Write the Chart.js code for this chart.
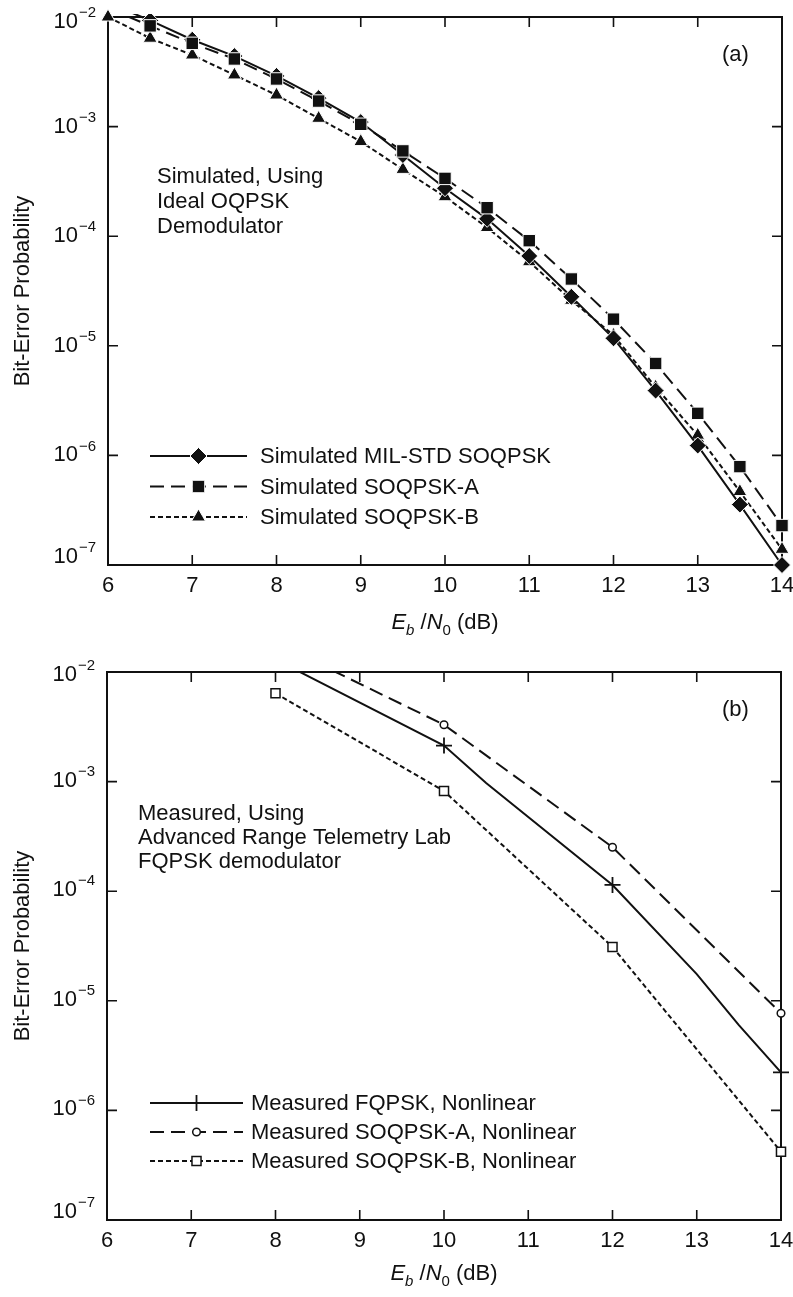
<!DOCTYPE html>
<html>
<head>
<meta charset="utf-8">
<script src="https://cdn.jsdelivr.net/npm/chart.js@4.4.1/dist/chart.umd.min.js"></script>
<style>
  html, body { margin: 0; padding: 0; background: #fff; }
  #wrap { position: relative; width: 793px; height: 1297px; }
  canvas { position: absolute; left: 0; }
  #chartA { top: 0; }
  #chartB { top: 640px; }
</style>
</head>
<body>
<div id="wrap">
  <canvas id="chartA" width="793" height="640"></canvas>
  <canvas id="chartB" width="793" height="657"></canvas>
</div>
<script>
// axis ticks
const xTickValues = [6, 7, 8, 9, 10, 11, 12, 13, 14];
const yTickExps = [-2, -3, -4, -5, -6, -7];

// (a) simulated, ideal OQPSK demodulator
const ebnoSim = [6, 6.5, 7, 7.5, 8, 8.5, 9, 9.5, 10, 10.5, 11, 11.5, 12, 12.5, 13, 13.5, 14];
const berMilStd = [1.35e-2, 9.3e-3, 6.2e-3, 4.4e-3, 2.9e-3, 1.82e-3, 1.1e-3, 5.5e-4, 2.74e-4, 1.44e-4, 6.6e-5, 2.8e-5, 1.17e-5, 3.9e-6, 1.23e-6, 3.56e-7, 1.0e-7];
const berSimA = [1.2e-2, 8.3e-3, 5.75e-3, 4.14e-3, 2.72e-3, 1.71e-3, 1.05e-3, 6.0e-4, 3.37e-4, 1.82e-4, 9.1e-5, 4.07e-5, 1.75e-5, 6.9e-6, 2.42e-6, 7.9e-7, 2.29e-7];
const berSimB = [1.0e-2, 6.4e-3, 4.5e-3, 2.96e-3, 1.94e-3, 1.19e-3, 7.3e-4, 4.07e-4, 2.29e-4, 1.2e-4, 5.85e-5, 2.6e-5, 1.25e-5, 4.2e-6, 1.53e-6, 4.68e-7, 1.39e-7];

// (b) measured, ARTL FQPSK demodulator
const ebnoFqpsk = [8, 10, 10.5, 12, 13, 13.5, 14];
const berFqpsk = [1.3e-2, 2.13e-3, 9.7e-4, 1.14e-4, 1.75e-5, 6.0e-6, 2.22e-6];
const markFqpsk = [false, true, false, true, false, false, true];
const ebnoMeasA = [8, 10, 12, 14];
const berMeasA = [1.85e-2, 3.3e-3, 2.52e-4, 7.7e-6];
const markMeasA = [false, true, true, true];
const ebnoMeasB = [8, 10, 12, 14];
const berMeasB = [6.4e-3, 8.2e-4, 3.1e-5, 4.2e-7];

const labelsA = ['Simulated MIL-STD SOQPSK', 'Simulated SOQPSK-A', 'Simulated SOQPSK-B'];
const labelsB = ['Measured FQPSK, Nonlinear', 'Measured SOQPSK-A, Nonlinear', 'Measured SOQPSK-B, Nonlinear'];
const notesA = ['Simulated, Using', 'Ideal OQPSK', 'Demodulator'];
const notesB = ['Measured, Using', 'Advanced Range Telemetry Lab', 'FQPSK demodulator'];

const FONT = '"Liberation Sans", Arial, Helvetica, sans-serif';
const INK = '#111';

const toPoints = (xs, ys) => xs.map((x, i) => ({ x: x, y: ys[i] }));

const paperPlugin = {
    id: 'paper',
    beforeDatasetsDraw(chart, args, opts) {
        const { ctx, chartArea: a, scales: { x, y } } = chart;
        ctx.save();
        ctx.strokeStyle = INK;
        ctx.lineWidth = 2;
        ctx.strokeRect(a.left, a.top, a.right - a.left, a.bottom - a.top);
        ctx.lineWidth = 1.6;
        ctx.beginPath();
        xTickValues.forEach(v => {
            const px = x.getPixelForValue(v);
            ctx.moveTo(px, a.bottom); ctx.lineTo(px, a.bottom - 10);
            ctx.moveTo(px, a.top); ctx.lineTo(px, a.top + 10);
        });
        yTickExps.forEach(e => {
            const py = y.getPixelForValue(Math.pow(10, e));
            ctx.moveTo(a.left, py); ctx.lineTo(a.left + 10, py);
            ctx.moveTo(a.right, py); ctx.lineTo(a.right - 10, py);
        });
        ctx.stroke();
        ctx.restore();
    },
    afterDraw(chart, args, opts) {
        const { ctx, chartArea: a, scales: { y } } = chart;
        ctx.save();
        ctx.fillStyle = INK;

        // y tick labels 10^n
        yTickExps.forEach((e, i) => {
            let py = y.getPixelForValue(Math.pow(10, e)) + opts.yLabelShift;
            if (i === 0) py += opts.firstShift;
            if (i === yTickExps.length - 1) py += opts.lastShift;
            ctx.font = '22px ' + FONT;
            ctx.textAlign = 'right';
            ctx.textBaseline = 'middle';
            ctx.fillText('10', opts.yLabelRight, py);
            ctx.font = '15px ' + FONT;
            ctx.textAlign = 'left';
            ctx.fillText('\u2212' + Math.abs(e), opts.yLabelRight + 1, py - 9);
        });

        // x title: Eb/N0 (dB)
        const parts = [
            { t: 'E', f: 'italic 22px ', dy: 0 },
            { t: 'b', f: 'italic 15px ', dy: 6 },
            { t: ' /', f: '22px ', dy: 0 },
            { t: 'N', f: 'italic 22px ', dy: 0 },
            { t: '0', f: '15px ', dy: 6 },
            { t: ' (dB)', f: '22px ', dy: 0 }
        ];
        let total = 0;
        parts.forEach(p => { ctx.font = p.f + FONT; p.w = ctx.measureText(p.t).width; total += p.w; });
        let cx = (a.left + a.right) / 2 - total / 2;
        ctx.textAlign = 'left';
        ctx.textBaseline = 'alphabetic';
        parts.forEach(p => {
            ctx.font = p.f + FONT;
            ctx.fillText(p.t, cx, opts.xTitleBase + p.dy);
            cx += p.w;
        });

        // notes and panel tag
        ctx.font = '22px ' + FONT;
        opts.notes.forEach((line, i) => ctx.fillText(line, opts.noteX, opts.noteY + i * opts.noteGap));
        ctx.fillText(opts.tag, opts.tagX, opts.tagY);

        // legend with line + marker samples
        chart.data.datasets.forEach((ds, i) => {
            const ly = opts.legendY + i * opts.legendGap;
            ctx.save();
            ctx.strokeStyle = INK;
            ctx.lineWidth = ds.borderWidth;
            ctx.setLineDash(ds.borderDash || []);
            ctx.beginPath();
            ctx.moveTo(opts.legendX0, ly);
            ctx.lineTo(opts.legendX1, ly);
            ctx.stroke();
            ctx.setLineDash([]);
            ctx.fillStyle = ds.pointBackgroundColor;
            ctx.strokeStyle = ds.pointBorderColor;
            ctx.lineWidth = ds.pointBorderWidth;
            Chart.helpers.drawPoint(ctx, {
                pointStyle: ds.pointStyle, radius: ds.markerRadius, rotation: 0, borderWidth: ds.pointBorderWidth
            }, (opts.legendX0 + opts.legendX1) / 2, ly);
            ctx.restore();
            ctx.fillStyle = INK;
            ctx.font = '22px ' + FONT;
            ctx.textBaseline = 'middle';
            ctx.fillText(ds.label, opts.legendTextX, ly + 1);
        });
        ctx.restore();
    }
};

function baseOptions(axisWidth, axisHeight, padTop, padRight, decor) {
    return {
        responsive: false,
        animation: false,
        devicePixelRatio: 1,
        events: [],
        layout: { padding: { top: padTop, right: padRight, left: 0, bottom: 0 } },
        plugins: { legend: { display: false }, tooltip: { enabled: false }, paper: decor },
        scales: {
            x: {
                type: 'linear', min: 6, max: 14,
                grid: { display: false, drawTicks: false },
                border: { display: false },
                ticks: { stepSize: 1, padding: 8, color: INK, font: { family: FONT, size: 22 } },
                afterFit: s => { s.height = axisHeight; s.paddingLeft = 0; s.paddingRight = 0; }
            },
            y: {
                type: 'logarithmic', min: 1e-7, max: 1e-2,
                grid: { display: false, drawTicks: false },
                border: { display: false },
                ticks: { display: false },
                title: { display: true, text: 'Bit-Error Probability', color: INK, padding: { top: 10, bottom: 0 }, font: { family: FONT, size: 22 } },
                afterFit: s => { s.width = axisWidth; s.paddingTop = 0; s.paddingBottom = 0; }
            }
        }
    };
}

const ptRadius = (marks, r) => c => (marks[c.dataIndex] ? r : 0);

new Chart(document.getElementById('chartA'), {
    type: 'line',
    data: {
        datasets: [
            {
                label: labelsA[0], data: toPoints(ebnoSim, berMilStd), order: 1,
                borderColor: INK, borderWidth: 2, tension: 0,
                pointStyle: 'rectRot', pointRadius: 8.5, markerRadius: 8.5,
                pointBackgroundColor: INK, pointBorderColor: '#fff', pointBorderWidth: 1,
                clip: { left: 12, top: 3, right: 12, bottom: 12 }
            },
            {
                label: labelsA[1], data: toPoints(ebnoSim, berSimA), order: 0,
                borderColor: INK, borderWidth: 2, borderDash: [14, 7], tension: 0,
                pointStyle: 'rect', pointRadius: 8.8, markerRadius: 8.8,
                pointBackgroundColor: INK, pointBorderColor: '#fff', pointBorderWidth: 1,
                clip: { left: 12, top: 0, right: 12, bottom: 12 }
            },
            {
                label: labelsA[2], data: toPoints(ebnoSim, berSimB), order: 2,
                borderColor: INK, borderWidth: 2, borderDash: [5, 3], tension: 0,
                pointStyle: 'triangle', pointRadius: 8, markerRadius: 8,
                pointBackgroundColor: INK, pointBorderColor: '#fff', pointBorderWidth: 1,
                clip: { left: 12, top: 12, right: 12, bottom: 12 }
            }
        ]
    },
    options: baseOptions(108, 75, 17, 11, {
        yLabelRight: 78, yLabelShift: 0, firstShift: 5, lastShift: -8,
        xTitleBase: 629,
        notes: notesA, noteX: 157, noteY: 183, noteGap: 25,
        tag: '(a)', tagX: 722, tagY: 61,
        legendX0: 150, legendX1: 247, legendTextX: 260, legendY: 456, legendGap: 30.5
    }),
    plugins: [paperPlugin]
});

new Chart(document.getElementById('chartB'), {
    type: 'line',
    data: {
        datasets: [
            {
                label: labelsB[0], data: toPoints(ebnoFqpsk, berFqpsk),
                borderColor: INK, borderWidth: 2, tension: 0,
                pointStyle: 'cross', pointRadius: ptRadius(markFqpsk, 8), markerRadius: 8,
                pointBackgroundColor: INK, pointBorderColor: INK, pointBorderWidth: 1.8,
                clip: { left: 12, top: 0, right: 12, bottom: 12 }
            },
            {
                label: labelsB[1], data: toPoints(ebnoMeasA, berMeasA),
                borderColor: INK, borderWidth: 2, borderDash: [14, 7], tension: 0,
                pointStyle: 'circle', pointRadius: ptRadius(markMeasA, 3.8), markerRadius: 3.8,
                pointBackgroundColor: '#fff', pointBorderColor: INK, pointBorderWidth: 1.5,
                clip: { left: 12, top: 0, right: 12, bottom: 12 }
            },
            {
                label: labelsB[2], data: toPoints(ebnoMeasB, berMeasB),
                borderColor: INK, borderWidth: 2, borderDash: [5, 3], tension: 0,
                pointStyle: 'rect', pointRadius: 6.4, markerRadius: 6.4,
                pointBackgroundColor: '#fff', pointBorderColor: INK, pointBorderWidth: 1.5,
                clip: { left: 12, top: 12, right: 12, bottom: 12 }
            }
        ]
    },
    options: baseOptions(107, 77, 32, 12, {
        yLabelRight: 77, yLabelShift: -1, firstShift: 4, lastShift: -7,
        xTitleBase: 640,
        notes: notesB, noteX: 138, noteY: 180, noteGap: 24,
        tag: '(b)', tagX: 722, tagY: 76,
        legendX0: 150, legendX1: 243, legendTextX: 251, legendY: 463, legendGap: 29
    }),
    plugins: [paperPlugin]
});
</script>
</body>
</html>
